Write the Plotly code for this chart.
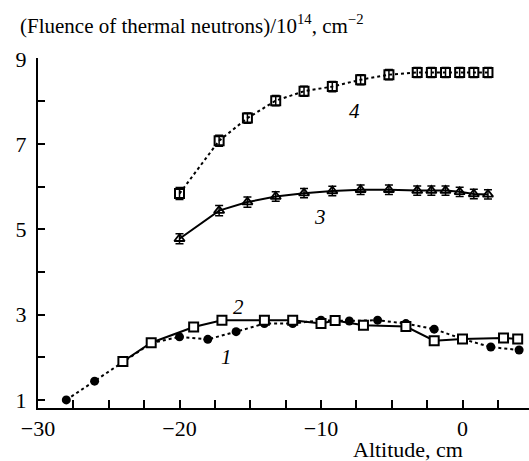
import plotly.graph_objects as go

# Series 1: filled circles, dotted line
x1 = [-28, -26, -24, -22, -20, -18, -16, -14, -12, -10, -8, -6, -4, -2, 0, 2, 4]
y1 = [1.00, 1.44, 1.90, 2.33, 2.48, 2.42, 2.60, 2.79, 2.79, 2.87, 2.85, 2.87, 2.79, 2.66, 2.43, 2.24, 2.17]

# Series 2: open squares, solid line
x2 = [-24, -22, -19, -17, -14, -12, -10, -9, -7, -4, -2, 0, 2.9, 3.9]
y2 = [1.90, 2.34, 2.71, 2.87, 2.87, 2.87, 2.79, 2.86, 2.75, 2.72, 2.39, 2.43, 2.45, 2.43]

# Series 3: open triangles, solid line, error bars
x3 = [-20, -17.2, -15.2, -13.2, -11.2, -9.2, -7.2, -5.2, -3.2, -2.2, -1.2, -0.2, 0.8, 1.8]
y3 = [4.78, 5.44, 5.64, 5.77, 5.85, 5.90, 5.93, 5.93, 5.91, 5.91, 5.91, 5.88, 5.83, 5.82]
e3 = [0.12, 0.12, 0.12, 0.11, 0.11, 0.11, 0.11, 0.11, 0.11, 0.11, 0.11, 0.11, 0.11, 0.11]

# Series 4: open squares, dotted line, error bars
x4 = [-20, -17.2, -15.2, -13.2, -11.2, -9.2, -7.2, -5.2, -3.2, -2.2, -1.2, -0.2, 0.8, 1.8]
y4 = [5.84, 7.08, 7.61, 8.02, 8.24, 8.35, 8.51, 8.63, 8.68, 8.68, 8.68, 8.68, 8.68, 8.68]
e4 = [0.14, 0.13, 0.12, 0.12, 0.12, 0.12, 0.12, 0.12, 0.12, 0.12, 0.12, 0.12, 0.12, 0.12]

curve_labels = ["1", "2", "3", "4"]
label_x = [-16.7, -15.8, -10.1, -7.6]
label_y = [2.01, 3.18, 5.29, 7.78]

FONT = "Liberation Serif"
BLACK = "black"

fig = go.Figure()

fig.add_trace(go.Scatter(
    x=x4, y=y4, mode="lines+markers",
    line=dict(color=BLACK, width=2, dash="dot"),
    marker=dict(symbol="square-open", size=9, color=BLACK, line=dict(width=2)),
    error_y=dict(type="data", array=e4, color=BLACK, thickness=1.5, width=4),
))
fig.add_trace(go.Scatter(
    x=x3, y=y3, mode="lines+markers",
    line=dict(color=BLACK, width=2),
    marker=dict(symbol="triangle-up-open", size=9, color=BLACK, line=dict(width=1.8)),
    error_y=dict(type="data", array=e3, color=BLACK, thickness=1.5, width=4),
))
fig.add_trace(go.Scatter(
    x=x1, y=y1, mode="lines+markers",
    line=dict(color=BLACK, width=2, dash="dot"),
    marker=dict(symbol="circle", size=9, color=BLACK),
))
fig.add_trace(go.Scatter(
    x=x2, y=y2, mode="lines+markers",
    line=dict(color=BLACK, width=2),
    marker=dict(symbol="square", size=9, color="white", line=dict(color=BLACK, width=2)),
))

for t, lx, ly in zip(curve_labels, label_x, label_y):
    fig.add_annotation(x=lx, y=ly, text="<i>" + t + "</i>", showarrow=False,
                       font=dict(family=FONT, size=21, color=BLACK),
                       xanchor="center", yanchor="middle")

# plot area: x 38..529, y 58..408
fig.add_annotation(xref="paper", yref="paper", x=(18 - 38) / 491, y=(408 - 25) / 350,
                   text="(Fluence of thermal neutrons)/10<sup>14</sup>, cm<sup>\u22122</sup>",
                   showarrow=False, xanchor="left", yanchor="middle",
                   font=dict(family=FONT, size=21, color=BLACK))
fig.add_annotation(xref="paper", yref="paper", x=(408 - 38) / 491, y=(408 - 449) / 350,
                   text="Altitude, cm", showarrow=False,
                   xanchor="center", yanchor="middle",
                   font=dict(family=FONT, size=22, color=BLACK))

fig.update_layout(
    width=529, height=461,
    margin=dict(l=38, r=0, t=58, b=53),
    paper_bgcolor="white", plot_bgcolor="white",
    showlegend=False,
    font=dict(family=FONT, color=BLACK),
)
fig.update_xaxes(
    range=[-30, 4.7], showgrid=False, zeroline=False,
    showline=True, linecolor=BLACK, linewidth=2,
    tickmode="linear", tick0=0, dtick=10,
    ticks="inside", ticklen=8, tickwidth=2, tickcolor=BLACK,
    minor=dict(tickmode="linear", tick0=0, dtick=2.5, ticks="inside", ticklen=8,
               tickwidth=2, tickcolor=BLACK, showgrid=False),
    tickfont=dict(family=FONT, size=22, color=BLACK),
    ticklabelstandoff=0,
)
fig.update_yaxes(
    range=[0.81, 9.02], showgrid=False, zeroline=False,
    showline=True, linecolor=BLACK, linewidth=2,
    tickmode="linear", tick0=1, dtick=2,
    ticks="inside", ticklen=7, tickwidth=2, tickcolor=BLACK,
    minor=dict(tickmode="linear", tick0=0, dtick=1, ticks="inside", ticklen=7,
               tickwidth=2, tickcolor=BLACK, showgrid=False),
    tickfont=dict(family=FONT, size=22, color=BLACK),
    ticklabelstandoff=5,
)

fig.write_html("out.html")
